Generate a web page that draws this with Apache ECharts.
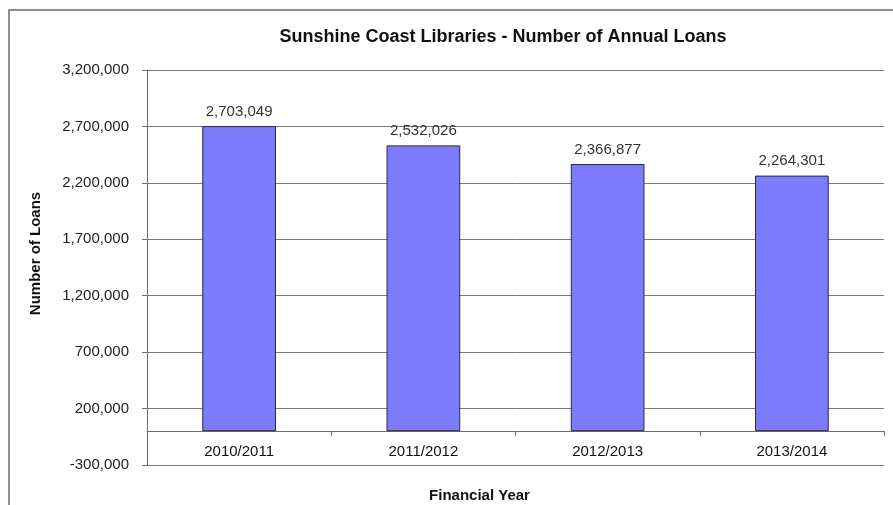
<!DOCTYPE html>
<html>
<head>
<meta charset="utf-8">
<script src="https://cdn.jsdelivr.net/npm/echarts@6/dist/echarts.min.js"></script>
<style>
html,body{margin:0;padding:0;background:#fff;}
#chart{width:893px;height:505px;}
</style>
</head>
<body>
<div id="chart"></div>
<script>
const categories = ['2010/2011', '2011/2012', '2012/2013', '2013/2014'];
const loans = [2703049, 2532026, 2366877, 2264301];
const titleText = 'Sunshine Coast Libraries - Number of Annual Loans';
const yAxisName = 'Number of Loans';
const xAxisName = 'Financial Year';

const FONT = '"Liberation Sans", Arial, sans-serif';
const fmt = v => Math.round(v).toString().replace(/\B(?=(\d{3})+(?!\d))/g, ',');

const chart = echarts.init(document.getElementById('chart'), null, {renderer: 'canvas'});
chart.setOption({
  backgroundColor: '#ffffff',
  animation: false,
  graphic: [{
    type: 'rect',
    shape: {x: 9, y: 10, width: 920, height: 540},
    style: {fill: 'none', stroke: '#6a6a6a', lineWidth: 1.5},
    silent: true
  }],
  title: {
    text: titleText,
    left: 498,
    textAlign: 'center',
    top: 23,
    textStyle: {fontFamily: FONT, fontSize: 18, fontWeight: 'bold', color: '#111'}
  },
  grid: {left: 147, right: 9, top: 70, bottom: 40, containLabel: false, outerBoundsMode: 'none'},
  xAxis: {
    type: 'category',
    data: categories,
    name: xAxisName,
    nameLocation: 'middle',
    nameGap: 23,
    nameMoveOverlap: false,
    nameTextStyle: {fontFamily: FONT, fontSize: 15, fontWeight: 'bold', color: '#111',
      padding: [0, 72, 0, 0]},
    axisLine: {onZero: true, lineStyle: {color: '#6e6e6e', width: 1}},
    axisTick: {show: true, length: 5, lineStyle: {color: '#6e6e6e'}},
    axisLabel: {fontFamily: FONT, fontSize: 15, color: '#111', margin: -21},
    splitLine: {show: false}
  },
  yAxis: {
    type: 'value',
    min: -300000,
    max: 3200000,
    interval: 500000,
    name: yAxisName,
    nameLocation: 'middle',
    nameGap: 104,
    nameMoveOverlap: false,
    nameRotate: 90,
    nameTextStyle: {fontFamily: FONT, fontSize: 15, fontWeight: 'bold', color: '#111', padding: [0, 0, 0, 28]},
    axisLine: {show: true, lineStyle: {color: '#6e6e6e', width: 1}},
    axisTick: {show: true, length: 5, lineStyle: {color: '#6e6e6e'}},
    axisLabel: {fontFamily: FONT, fontSize: 15, color: '#222', margin: 18, formatter: v => fmt(v)},
    splitLine: {show: true, lineStyle: {color: '#7a7a7a', width: 1}}
  },
  series: [{
    type: 'bar',
    data: loans,
    barWidth: '40%',
    itemStyle: {color: '#7b7bfc', borderColor: '#2a2a3a', borderWidth: 1},
    label: {
      show: true,
      position: 'top',
      distance: 7,
      fontFamily: FONT,
      fontSize: 15,
      color: '#333',
      formatter: p => fmt(p.value)
    }
  }]
});
</script>
</body>
</html>
